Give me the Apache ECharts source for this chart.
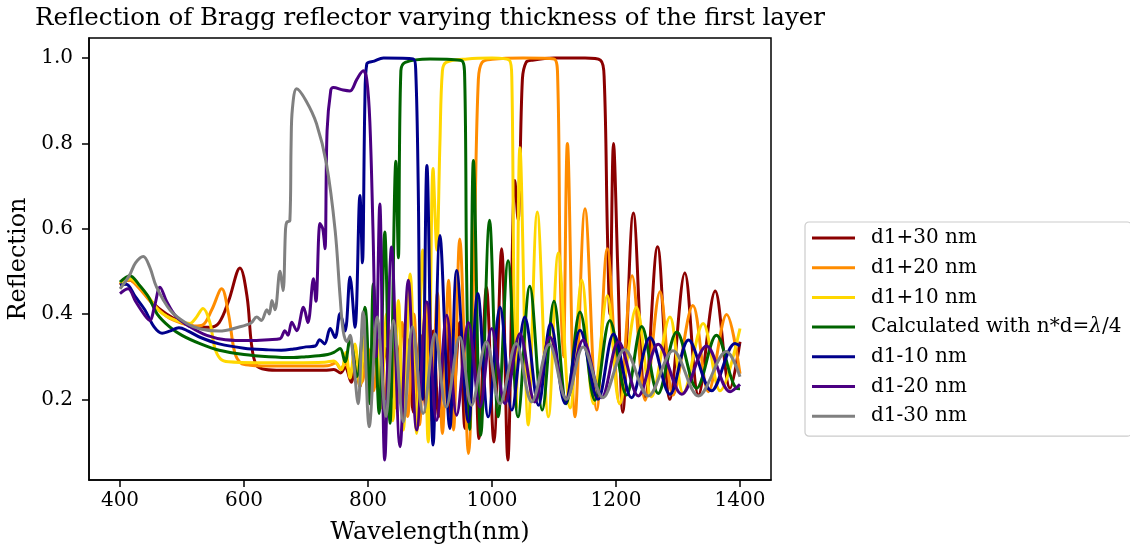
<!DOCTYPE html>
<html>
<head>
<meta charset="utf-8">
<script src="https://cdn.jsdelivr.net/npm/echarts@6/dist/echarts.min.js"></script>
<style>html,body{margin:0;padding:0;background:#fff}#c{width:1130px;height:554px}</style>
</head>
<body>
<div id="c"></div>
<script>
// ---- data: [wavelength nm, reflection] ----
const seriesNames = ['d1+30 nm','d1+20 nm','d1+10 nm','Calculated with n*d=λ/4','d1-10 nm','d1-20 nm','d1-30 nm'];
const xTicks = [400,600,800,1000,1200,1400];
const yTicks = [0.2,0.4,0.6,0.8,1.0];

const d1p30 = [[400,0.468],[415,0.48],[430,0.465],[450,0.43],[475,0.4],[500,0.38],[525,0.37],[545,0.369],[560,0.38],[575,0.43],[593.5,0.508],[605,0.44],[612,0.33],[620,0.28],[635,0.27],[660,0.268],[700,0.268],[730,0.268],[745,0.27],[756,0.262],[763,0.275],[773,0.24],[780,0.29],[787,0.23],[794,0.3],[802,0.22],[811,0.31],[819,0.21],[828,0.32],[837,0.2],[846,0.33],[855,0.19],[865,0.34],[873,0.17],[885,0.35],[894,0.17],[905,0.36],[914,0.16],[926,0.37],[935,0.15],[948,0.38],[956.5,0.132],[970,0.409],[979,0.108],[991,0.463],[1003,0.1],[1015.6,0.553],[1025.5,0.058],[1037,0.713],[1042,0.62],[1049,0.95],[1055,0.99],[1065,0.995],[1100,1.0],[1150,1.0],[1175,0.995],[1181,0.95],[1186,0.6],[1190,0.4],[1196,0.8],[1203,0.5],[1211,0.17],[1228,0.637],[1247,0.205],[1267,0.558],[1287,0.2],[1311,0.496],[1333,0.21],[1360,0.454],[1384,0.226],[1400,0.335]];

const d1p20 = [[400,0.47],[415,0.48],[430,0.462],[450,0.428],[475,0.395],[500,0.378],[520,0.372],[533,0.374],[548,0.41],[564,0.459],[575,0.4],[585,0.31],[595,0.285],[610,0.28],[650,0.278],[700,0.278],[735,0.279],[748,0.285],[756,0.27],[763,0.285],[771,0.265],[780,0.3],[790,0.24],[800,0.32],[809,0.22],[818,0.34],[827,0.2],[836,0.36],[845,0.18],[855,0.38],[864,0.16],[874,0.4],[883,0.14],[893,0.43],[902,0.151],[912,0.45],[920,0.12],[930,0.479],[938,0.128],[948,0.576],[962,0.073],[972,0.6],[978,0.95],[984,0.99],[1000,0.997],[1050,1.0],[1100,0.998],[1106,0.95],[1110,0.5],[1115,0.3],[1121.6,0.8],[1134,0.159],[1150,0.647],[1169,0.175],[1186,0.553],[1206,0.19],[1226,0.49],[1247,0.198],[1271,0.452],[1292,0.21],[1324,0.42],[1349,0.218],[1378.5,0.399],[1400,0.26]];

const d1p10 = [[400,0.472],[416,0.483],[430,0.468],[446,0.44],[465,0.405],[490,0.385],[513,0.378],[522,0.39],[534,0.413],[545,0.38],[553,0.32],[562,0.295],[575,0.288],[620,0.286],[680,0.286],[730,0.287],[745,0.29],[757,0.27],[764,0.31],[771,0.25],[779,0.33],[787,0.23],[795,0.35],[803,0.21],[812,0.37],[821,0.18],[830,0.4],[840,0.15],[849,0.432],[857,0.128],[868,0.494],[878.5,0.12],[888,0.55],[897,0.1],[905,0.741],[911,0.55],[916,0.8],[920,0.97],[926,0.99],[960,0.998],[1000,1.0],[1028,0.995],[1032,0.95],[1035,0.5],[1039,0.18],[1045,0.79],[1058.6,0.14],[1073,0.639],[1091,0.159],[1107,0.543],[1126,0.18],[1145,0.479],[1163.5,0.19],[1186,0.443],[1206,0.19],[1233,0.416],[1257.5,0.206],[1287,0.393],[1308.5,0.214],[1340.6,0.378],[1368,0.22],[1400,0.366]];

const calc = [[400,0.475],[416,0.49],[430,0.47],[446,0.44],[460,0.4],[480,0.37],[500,0.35],[530,0.33],[560,0.315],[600,0.305],[640,0.3],[680,0.298],[700,0.3],[720,0.302],[735,0.305],[745,0.31],[755,0.319],[763,0.288],[771,0.342],[782,0.253],[795,0.416],[803,0.19],[808.6,0.471],[818,0.167],[827,0.592],[835.5,0.144],[845,0.758],[849,0.532],[853,0.97],[860,0.99],[900,0.998],[951,0.994],[956,0.95],[959,0.5],[964,0.13],[970,0.76],[982,0.116],[996,0.62],[1010,0.159],[1026,0.525],[1042,0.159],[1061,0.465],[1081,0.175],[1100,0.43],[1120,0.19],[1142,0.405],[1166,0.198],[1190,0.385],[1217,0.21],[1241.5,0.371],[1268,0.214],[1298,0.358],[1330,0.226],[1362,0.35],[1394,0.226],[1400,0.225]];

const d1m10 = [[400,0.468],[410,0.47],[425,0.44],[440,0.41],[455,0.37],[468,0.355],[480,0.36],[495,0.368],[510,0.36],[530,0.345],[560,0.33],[600,0.32],[640,0.316],[660,0.315],[680,0.318],[700,0.323],[715,0.325],[722,0.34],[730,0.33],[739,0.366],[747,0.345],[755,0.401],[763,0.36],[771,0.487],[779,0.369],[787,0.678],[791,0.52],[795,0.9],[798,0.986],[810,0.993],[825,1.0],[873,0.998],[877,0.97],[881,0.7],[884,0.3],[888,0.2],[895,0.748],[905,0.093],[916,0.584],[932,0.132],[943,0.502],[962,0.147],[977,0.448],[994,0.159],[1013,0.416],[1032,0.175],[1053,0.393],[1075,0.186],[1094.6,0.378],[1118,0.19],[1142,0.362],[1171,0.2],[1196,0.353],[1225,0.204],[1255,0.345],[1287,0.212],[1317,0.339],[1354,0.22],[1392,0.331],[1400,0.325]];

const d1m20 = [[400,0.448],[413,0.459],[425,0.43],[440,0.397],[448,0.385],[456,0.42],[464.5,0.463],[475,0.43],[490,0.395],[513,0.37],[540,0.35],[570,0.34],[610,0.338],[640,0.34],[658,0.342],[666,0.361],[671,0.35],[677,0.381],[685,0.361],[696,0.416],[703,0.38],[712,0.483],[716,0.43],[722.6,0.612],[727,0.6],[730.6,0.553],[734,0.83],[740,0.925],[744,0.931],[760,0.925],[771,0.923],[782,0.95],[792.4,0.97],[798,0.95],[803,0.85],[808,0.6],[813,0.3],[819,0.658],[827,0.058],[838,0.557],[851.6,0.089],[865,0.479],[878.5,0.128],[895,0.428],[910.8,0.151],[927,0.397],[943,0.163],[962,0.38],[980.6,0.182],[999.5,0.366],[1021,0.19],[1045,0.354],[1069,0.194],[1093.5,0.346],[1120,0.2],[1147,0.339],[1177,0.204],[1204,0.335],[1236,0.208],[1268,0.329],[1306,0.212],[1346,0.325],[1384,0.218],[1400,0.235]];

const d1m30 = [[400,0.459],[415,0.49],[425,0.52],[437.6,0.535],[448,0.51],[459,0.463],[481,0.409],[507.6,0.378],[530,0.365],[560,0.36],[593.5,0.37],[605,0.375],[612,0.38],[620.5,0.393],[628,0.385],[637,0.41],[641,0.4],[645,0.432],[650,0.41],[658,0.5],[663,0.455],[667,0.6],[669,0.615],[674,0.619],[676,0.8],[678,0.88],[685,0.928],[700,0.9],[717,0.846],[733,0.752],[747,0.596],[755,0.44],[760,0.36],[766,0.335],[771,0.35],[776,0.3],[784,0.19],[792,0.405],[802,0.136],[815,0.393],[829,0.16],[841,0.385],[857,0.147],[871.6,0.37],[889,0.167],[908,0.354],[926,0.182],[948,0.346],[967,0.186],[991,0.335],[1013,0.19],[1039,0.331],[1064,0.194],[1092.5,0.329],[1120,0.2],[1147,0.323],[1179,0.204],[1214,0.317],[1252,0.208],[1292,0.314],[1333,0.208],[1378,0.312],[1400,0.253]];

const allData = [d1p30, d1p20, d1p10, calc, d1m10, d1m20, d1m30];
const colors = ['#8b0000','#ff8c00','#ffd700','#006400','#00008b','#4b0082','#808080'];

const FONT = 'DejaVu Serif';
const chart = echarts.init(document.getElementById('c'), null, {renderer:'canvas'});
chart.setOption({
  animation: false,
  backgroundColor: '#fff',
  title: {
    text: 'Reflection of Bragg reflector varying thickness of the first layer',
    left: 430, top: 6, textAlign: 'center', padding: 0,
    textStyle: {fontFamily: FONT, fontSize: 24.5, fontWeight: 'normal', color: '#000'}
  },
  grid: {left: 89, top: 38, right: 359, bottom: 74, show: true, borderColor: '#000', borderWidth: 1.5, backgroundColor: 'transparent', outerBoundsMode: 'none'},
  legend: {
    orient: 'vertical', left: 805, top: 222,
    padding: [6, 10, 10, 7],
    itemWidth: 43, itemHeight: 3, itemGap: 9.7, icon: 'rect',
    backgroundColor: '#fff', borderColor: '#cccccc', borderWidth: 1.2, borderRadius: 4,
    data: seriesNames,
    formatter: n => n.replace('λ', '{i|λ}'),
    textStyle: {fontFamily: FONT, fontSize: 20, lineHeight: 20, color: '#000', padding: [0,0,0,11],
      rich: {i: {fontFamily: FONT, fontSize: 20, fontStyle: 'italic', color: '#000'}}}
  },
  xAxis: {
    type: 'value', min: 350, max: 1450,
    name: 'Wavelength(nm)', nameLocation: 'middle', nameGap: 41,
    nameTextStyle: {fontFamily: FONT, fontSize: 24, color: '#000'},
    axisLine: {show: true, lineStyle: {color: '#000', width: 1.5}},
    axisTick: {show: true, length: 7, customValues: xTicks, lineStyle: {color: '#000', width: 1.5}},
    axisLabel: {customValues: xTicks, margin: 11, fontFamily: FONT, fontSize: 20, color: '#000', formatter: v => String(v)},
    splitLine: {show: false}
  },
  yAxis: {
    type: 'value', min: 0.011, max: 1.047,
    name: 'Reflection', nameLocation: 'middle', nameGap: 54, nameRotate: 90,
    nameTextStyle: {fontFamily: FONT, fontSize: 24, color: '#000'},
    axisLine: {show: true, lineStyle: {color: '#000', width: 1.5}},
    axisTick: {show: true, length: 7, customValues: yTicks, lineStyle: {color: '#000', width: 1.5}},
    axisLabel: {customValues: yTicks, margin: 16, fontFamily: FONT, fontSize: 20, color: '#000', formatter: v => v.toFixed(1)},
    splitLine: {show: false}
  },
  series: allData.map((d, i) => ({
    name: seriesNames[i], type: 'line', data: d,
    showSymbol: false, symbol: 'none', smooth: 0.35,
    color: colors[i],
    lineStyle: {color: colors[i], width: 3},
    emphasis: {disabled: true}
  }))
});
</script>
</body>
</html>
